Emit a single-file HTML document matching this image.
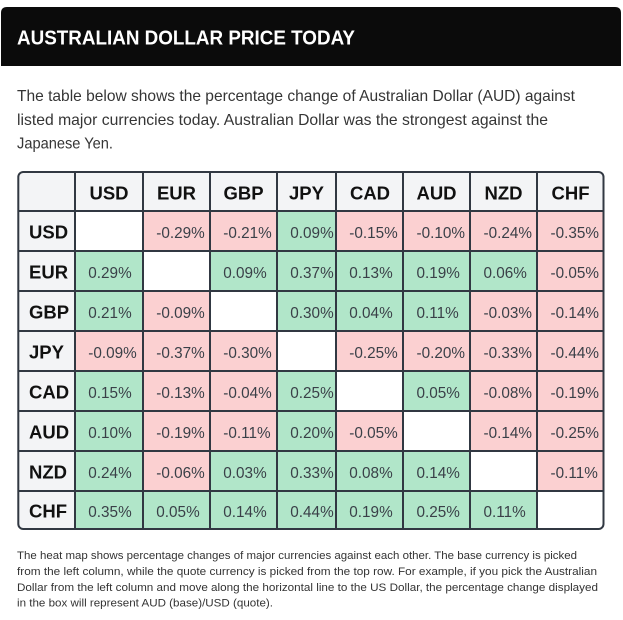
<!DOCTYPE html>
<html>
<head>
<meta charset="utf-8">
<style>
html,body{margin:0;padding:0;background:#fff;}
body{width:623px;height:620px;overflow:hidden;}
svg{display:block;}
.t{font-family:"Liberation Sans",sans-serif;}
</style>
</head>
<body>
<svg width="623" height="620" viewBox="0 0 623 620" xmlns="http://www.w3.org/2000/svg">
  <!-- Title bar -->
  <path d="M1,66 L1,13 Q1,7 7,7 L615,7 Q621,7 621,13 L621,66 Z" fill="#0b0b0b"/>
  <text class="t" x="17" y="44.3" font-size="20" font-weight="bold" fill="#ffffff" textLength="338" lengthAdjust="spacingAndGlyphs">AUSTRALIAN DOLLAR PRICE TODAY</text>

  <!-- Intro paragraph -->
  <g class="t" font-size="16" fill="#353535">
    <text x="17" y="101" textLength="558" lengthAdjust="spacingAndGlyphs">The table below shows the percentage change of Australian Dollar (AUD) against</text>
    <text x="17" y="125" textLength="531" lengthAdjust="spacingAndGlyphs">listed major currencies today. Australian Dollar was the strongest against the</text>
    <text x="17" y="148.5" textLength="96" lengthAdjust="spacingAndGlyphs">Japanese Yen.</text>
  </g>

  <defs>
    <clipPath id="tbl">
      <rect x="18.3" y="172" width="585.2" height="357" rx="5" ry="5"/>
    </clipPath>
  </defs>

  <g clip-path="url(#tbl)">
    <!-- header row & first column background -->
    <rect x="0" y="160" width="623" height="51" fill="#f3f4f6"/>
    <rect x="0" y="160" width="75" height="380" fill="#f3f4f6"/>

    <!-- cells: row USD y 211-251 -->
    <g>
      <!-- USD row -->
      <rect x="75" y="211" width="68" height="40" fill="#ffffff"/>
      <rect x="143" y="211" width="67" height="40" fill="#fbd0d1"/>
      <rect x="210" y="211" width="67" height="40" fill="#fbd0d1"/>
      <rect x="277" y="211" width="59" height="40" fill="#b1e6c9"/>
      <rect x="336" y="211" width="67" height="40" fill="#fbd0d1"/>
      <rect x="403" y="211" width="67" height="40" fill="#fbd0d1"/>
      <rect x="470" y="211" width="67" height="40" fill="#fbd0d1"/>
      <rect x="537" y="211" width="70" height="40" fill="#fbd0d1"/>
      <!-- EUR row -->
      <rect x="75" y="251" width="68" height="40" fill="#b1e6c9"/>
      <rect x="143" y="251" width="67" height="40" fill="#ffffff"/>
      <rect x="210" y="251" width="67" height="40" fill="#b1e6c9"/>
      <rect x="277" y="251" width="59" height="40" fill="#b1e6c9"/>
      <rect x="336" y="251" width="67" height="40" fill="#b1e6c9"/>
      <rect x="403" y="251" width="67" height="40" fill="#b1e6c9"/>
      <rect x="470" y="251" width="67" height="40" fill="#b1e6c9"/>
      <rect x="537" y="251" width="70" height="40" fill="#fbd0d1"/>
      <!-- GBP row -->
      <rect x="75" y="291" width="68" height="40" fill="#b1e6c9"/>
      <rect x="143" y="291" width="67" height="40" fill="#fbd0d1"/>
      <rect x="210" y="291" width="67" height="40" fill="#ffffff"/>
      <rect x="277" y="291" width="59" height="40" fill="#b1e6c9"/>
      <rect x="336" y="291" width="67" height="40" fill="#b1e6c9"/>
      <rect x="403" y="291" width="67" height="40" fill="#b1e6c9"/>
      <rect x="470" y="291" width="67" height="40" fill="#fbd0d1"/>
      <rect x="537" y="291" width="70" height="40" fill="#fbd0d1"/>
      <!-- JPY row -->
      <rect x="75" y="331" width="68" height="40" fill="#fbd0d1"/>
      <rect x="143" y="331" width="67" height="40" fill="#fbd0d1"/>
      <rect x="210" y="331" width="67" height="40" fill="#fbd0d1"/>
      <rect x="277" y="331" width="59" height="40" fill="#ffffff"/>
      <rect x="336" y="331" width="67" height="40" fill="#fbd0d1"/>
      <rect x="403" y="331" width="67" height="40" fill="#fbd0d1"/>
      <rect x="470" y="331" width="67" height="40" fill="#fbd0d1"/>
      <rect x="537" y="331" width="70" height="40" fill="#fbd0d1"/>
      <!-- CAD row -->
      <rect x="75" y="371" width="68" height="40" fill="#b1e6c9"/>
      <rect x="143" y="371" width="67" height="40" fill="#fbd0d1"/>
      <rect x="210" y="371" width="67" height="40" fill="#fbd0d1"/>
      <rect x="277" y="371" width="59" height="40" fill="#b1e6c9"/>
      <rect x="336" y="371" width="67" height="40" fill="#ffffff"/>
      <rect x="403" y="371" width="67" height="40" fill="#b1e6c9"/>
      <rect x="470" y="371" width="67" height="40" fill="#fbd0d1"/>
      <rect x="537" y="371" width="70" height="40" fill="#fbd0d1"/>
      <!-- AUD row -->
      <rect x="75" y="411" width="68" height="40" fill="#b1e6c9"/>
      <rect x="143" y="411" width="67" height="40" fill="#fbd0d1"/>
      <rect x="210" y="411" width="67" height="40" fill="#fbd0d1"/>
      <rect x="277" y="411" width="59" height="40" fill="#b1e6c9"/>
      <rect x="336" y="411" width="67" height="40" fill="#fbd0d1"/>
      <rect x="403" y="411" width="67" height="40" fill="#ffffff"/>
      <rect x="470" y="411" width="67" height="40" fill="#fbd0d1"/>
      <rect x="537" y="411" width="70" height="40" fill="#fbd0d1"/>
      <!-- NZD row -->
      <rect x="75" y="451" width="68" height="40" fill="#b1e6c9"/>
      <rect x="143" y="451" width="67" height="40" fill="#fbd0d1"/>
      <rect x="210" y="451" width="67" height="40" fill="#b1e6c9"/>
      <rect x="277" y="451" width="59" height="40" fill="#b1e6c9"/>
      <rect x="336" y="451" width="67" height="40" fill="#b1e6c9"/>
      <rect x="403" y="451" width="67" height="40" fill="#b1e6c9"/>
      <rect x="470" y="451" width="67" height="40" fill="#ffffff"/>
      <rect x="537" y="451" width="70" height="40" fill="#fbd0d1"/>
      <!-- CHF row -->
      <rect x="75" y="491" width="68" height="45" fill="#b1e6c9"/>
      <rect x="143" y="491" width="67" height="45" fill="#b1e6c9"/>
      <rect x="210" y="491" width="67" height="45" fill="#b1e6c9"/>
      <rect x="277" y="491" width="59" height="45" fill="#b1e6c9"/>
      <rect x="336" y="491" width="67" height="45" fill="#b1e6c9"/>
      <rect x="403" y="491" width="67" height="45" fill="#b1e6c9"/>
      <rect x="470" y="491" width="67" height="45" fill="#b1e6c9"/>
      <rect x="537" y="491" width="70" height="45" fill="#ffffff"/>
    </g>

    <!-- grid lines -->
    <g stroke="#313842" stroke-width="2">
      <line x1="75" y1="160" x2="75" y2="540"/>
      <line x1="143" y1="160" x2="143" y2="540"/>
      <line x1="210" y1="160" x2="210" y2="540"/>
      <line x1="277" y1="160" x2="277" y2="540"/>
      <line x1="336" y1="160" x2="336" y2="540"/>
      <line x1="403" y1="160" x2="403" y2="540"/>
      <line x1="470" y1="160" x2="470" y2="540"/>
      <line x1="537" y1="160" x2="537" y2="540"/>
      <line x1="0" y1="211" x2="623" y2="211"/>
      <line x1="0" y1="251" x2="623" y2="251"/>
      <line x1="0" y1="291" x2="623" y2="291"/>
      <line x1="0" y1="331" x2="623" y2="331"/>
      <line x1="0" y1="371" x2="623" y2="371"/>
      <line x1="0" y1="411" x2="623" y2="411"/>
      <line x1="0" y1="451" x2="623" y2="451"/>
      <line x1="0" y1="491" x2="623" y2="491"/>
    </g>
  </g>
  <rect x="18.3" y="172" width="585.2" height="357" rx="5" ry="5" fill="none" stroke="#313842" stroke-width="2"/>

  <!-- header labels -->
  <g class="t" font-size="18.5" font-weight="bold" fill="#111111" text-anchor="middle">
    <text x="109" y="199.5">USD</text>
    <text x="176.5" y="199.5">EUR</text>
    <text x="243.5" y="199.5">GBP</text>
    <text x="306.5" y="199.5">JPY</text>
    <text x="370" y="199.5">CAD</text>
    <text x="436.5" y="199.5">AUD</text>
    <text x="503.5" y="199.5">NZD</text>
    <text x="570.5" y="199.5">CHF</text>
  </g>

  <!-- row labels -->
  <g class="t" font-size="18.5" font-weight="bold" fill="#111111">
    <text x="29" y="238.5">USD</text>
    <text x="29" y="278.5">EUR</text>
    <text x="29" y="318.5">GBP</text>
    <text x="29" y="358.5">JPY</text>
    <text x="29" y="398.5">CAD</text>
    <text x="29" y="438.5">AUD</text>
    <text x="29" y="478.5">NZD</text>
    <text x="29" y="517.5">CHF</text>
  </g>

  <!-- values -->
  <g class="t" font-size="15.3" fill="#3a4048">
    <!-- USD -->
    <text x="156.3" y="238">-0.29%</text>
    <text x="223.3" y="238">-0.21%</text>
    <text x="290.3" y="238">0.09%</text>
    <text x="349.3" y="238">-0.15%</text>
    <text x="416.5" y="238">-0.10%</text>
    <text x="483.5" y="238">-0.24%</text>
    <text x="550.5" y="238">-0.35%</text>
    <!-- EUR -->
    <text x="88.3" y="278">0.29%</text>
    <text x="223.3" y="278">0.09%</text>
    <text x="290.3" y="278">0.37%</text>
    <text x="349.3" y="278">0.13%</text>
    <text x="416.5" y="278">0.19%</text>
    <text x="483.5" y="278">0.06%</text>
    <text x="550.5" y="278">-0.05%</text>
    <!-- GBP -->
    <text x="88.3" y="318">0.21%</text>
    <text x="156.3" y="318">-0.09%</text>
    <text x="290.3" y="318">0.30%</text>
    <text x="349.3" y="318">0.04%</text>
    <text x="416.5" y="318">0.11%</text>
    <text x="483.5" y="318">-0.03%</text>
    <text x="550.5" y="318">-0.14%</text>
    <!-- JPY -->
    <text x="88.3" y="358">-0.09%</text>
    <text x="156.3" y="358">-0.37%</text>
    <text x="223.3" y="358">-0.30%</text>
    <text x="349.3" y="358">-0.25%</text>
    <text x="416.5" y="358">-0.20%</text>
    <text x="483.5" y="358">-0.33%</text>
    <text x="550.5" y="358">-0.44%</text>
    <!-- CAD -->
    <text x="88.3" y="398">0.15%</text>
    <text x="156.3" y="398">-0.13%</text>
    <text x="223.3" y="398">-0.04%</text>
    <text x="290.3" y="398">0.25%</text>
    <text x="416.5" y="398">0.05%</text>
    <text x="483.5" y="398">-0.08%</text>
    <text x="550.5" y="398">-0.19%</text>
    <!-- AUD -->
    <text x="88.3" y="438">0.10%</text>
    <text x="156.3" y="438">-0.19%</text>
    <text x="223.3" y="438">-0.11%</text>
    <text x="290.3" y="438">0.20%</text>
    <text x="349.3" y="438">-0.05%</text>
    <text x="483.5" y="438">-0.14%</text>
    <text x="550.5" y="438">-0.25%</text>
    <!-- NZD -->
    <text x="88.3" y="478">0.24%</text>
    <text x="156.3" y="478">-0.06%</text>
    <text x="223.3" y="478">0.03%</text>
    <text x="290.3" y="478">0.33%</text>
    <text x="349.3" y="478">0.08%</text>
    <text x="416.5" y="478">0.14%</text>
    <text x="550.5" y="478">-0.11%</text>
    <!-- CHF -->
    <text x="88.3" y="517">0.35%</text>
    <text x="156.3" y="517">0.05%</text>
    <text x="223.3" y="517">0.14%</text>
    <text x="290.3" y="517">0.44%</text>
    <text x="349.3" y="517">0.19%</text>
    <text x="416.5" y="517">0.25%</text>
    <text x="483.5" y="517">0.11%</text>
  </g>

  <!-- footer note -->
  <g class="t" font-size="11" fill="#333333">
    <text x="17" y="559" textLength="560" lengthAdjust="spacingAndGlyphs">The heat map shows percentage changes of major currencies against each other. The base currency is picked</text>
    <text x="17" y="575" textLength="580" lengthAdjust="spacingAndGlyphs">from the left column, while the quote currency is picked from the top row. For example, if you pick the Australian</text>
    <text x="17" y="591" textLength="581" lengthAdjust="spacingAndGlyphs">Dollar from the left column and move along the horizontal line to the US Dollar, the percentage change displayed</text>
    <text x="17" y="606.5" textLength="256" lengthAdjust="spacingAndGlyphs">in the box will represent AUD (base)/USD (quote).</text>
  </g>
</svg>
</body>
</html>
